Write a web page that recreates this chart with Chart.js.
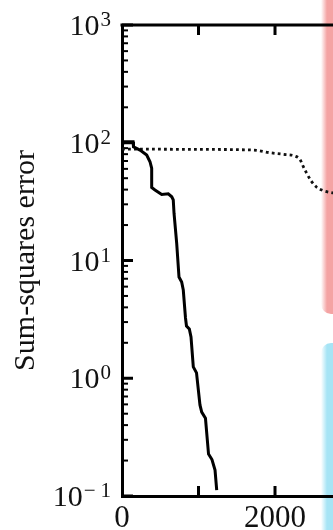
<!DOCTYPE html>
<html>
<head>
<meta charset="utf-8">
<script src="https://cdn.jsdelivr.net/npm/chart.js@4.4.1/dist/chart.umd.min.js"></script>
<style>
  html, body { margin: 0; padding: 0; background: #fff; overflow: hidden; }
  #wrap { position: relative; width: 333px; height: 530px; }
  .strip { position: absolute; left: 321px; width: 20px; }
  #red { top: 0; height: 314px; background: linear-gradient(to right, rgba(244,163,163,0), #f4a3a3 6px); border-bottom-left-radius: 10px; }
  #blue { top: 343px; height: 190px; background: linear-gradient(to right, rgba(166,228,245,0), #a6e4f5 6px); border-top-left-radius: 10px; }
  canvas { position: absolute; left: 0; top: 0; }
</style>
</head>
<body>
<div id="wrap">
  <div class="strip" id="red"></div>
  <div class="strip" id="blue"></div>
  <canvas id="chart" width="333" height="530"></canvas>
</div>
<script>
// values
const solidX = [0, 25, 145, 150, 235, 323, 366, 388, 388, 431, 519, 605, 650, 670, 680, 715, 745, 780, 801, 830, 843, 880, 902, 932, 974, 1019, 1042, 1091, 1131, 1176, 1216, 1238];
const solidY = [95, 102, 102, 92.5, 86.7, 78.7, 69, 60.7, 41.7, 39.7, 36.3, 36.8, 34.8, 32.7, 25.2, 14.0, 7.24, 6.56, 5.61, 3.25, 2.78, 2.62, 2.24, 1.25, 1.11, 0.593, 0.516, 0.457, 0.227, 0.204, 0.166, 0.112];
const dottedX = [0, 1000, 1716, 1934, 2108, 2261, 2326, 2370, 2414, 2479, 2545, 2631, 2718, 2800];
const dottedY = [88.5, 87.8, 86.7, 82.3, 79.8, 77.1, 72.3, 62.7, 55.0, 46.7, 41.9, 39.2, 37.9, 37.2];

const xTicks = [0, 1000, 2000];
const xLabels = ["0", "", "2000"];
const yDecades = [-1, 0, 1, 2, 3];
const yTitle = "Sum-squares error";

const fontFamily = "'Liberation Serif', 'Times New Roman', serif";

// 1..9 x 10^n minor ticks between the decades
const yTickValues = [];
yDecades.forEach((d, i) => {
  if (i === yDecades.length - 1) {
    yTickValues.push(Math.pow(10, d));
    return;
  }
  for (let m = 1; m <= 9; m++) yTickValues.push(m * Math.pow(10, d));
});

function isPow10(v) {
  const e = Math.round(Math.log10(v));
  return Math.abs(v - Math.pow(10, e)) < 1e-9 * Math.max(1, v);
}

// inward ticks, top frame line and 10^n labels
const frameTicks = {
  id: "frameTicks",
  beforeDatasetsDraw(chart) {
    const { ctx, chartArea: a, scales } = chart;
    const x = scales.x, y = scales.y;
    ctx.save();
    ctx.strokeStyle = "#000";
    ctx.lineWidth = 3;
    ctx.beginPath();
    ctx.moveTo(a.left - 1.5, a.top);
    ctx.lineTo(a.right, a.top);
    ctx.stroke();

    x.ticks.forEach((t) => {
      if (t.value === 0) return;
      const px = x.getPixelForValue(t.value);
      ctx.beginPath();
      ctx.moveTo(px, a.bottom);
      ctx.lineTo(px, a.bottom - 10);
      ctx.moveTo(px, a.top);
      ctx.lineTo(px, a.top + 10);
      ctx.stroke();
    });

    y.ticks.forEach((t) => {
      const py = y.getPixelForValue(t.value);
      const major = isPow10(t.value);
      ctx.lineWidth = major ? 3 : 2;
      ctx.beginPath();
      ctx.moveTo(a.left, py);
      ctx.lineTo(a.left + (major ? 11 : 6), py);
      ctx.stroke();

      if (!major) return;
      const e = Math.round(Math.log10(t.value));
      const digits = String(Math.abs(e));
      const right = 111;
      ctx.fillStyle = "#111";
      ctx.textAlign = "left";
      ctx.textBaseline = "alphabetic";
      ctx.font = "21px " + fontFamily;
      const wd = ctx.measureText(digits).width;
      const wm = e < 0 ? ctx.measureText("\u2212").width + 5 : 0;
      const expLeft = right - wd - wm;
      ctx.fillText(digits, right - wd, py + 1);
      if (e < 0) ctx.fillText("\u2212", expLeft, py + 1);
      ctx.font = "30px " + fontFamily;
      const wb = ctx.measureText("10").width;
      ctx.fillText("10", expLeft - wb - 1, py + 10);
    });
    ctx.restore();
  },
};

const hiddenGrid = { drawOnChartArea: false, drawTicks: false, color: "rgba(0,0,0,0)" };

new Chart(document.getElementById("chart"), {
  type: "line",
  data: {
    datasets: [
      {
        label: "solid",
        data: solidX.map((v, i) => ({ x: v, y: solidY[i] })),
        borderColor: "#000",
        borderWidth: 3,
        pointRadius: 0,
        tension: 0,
        fill: false,
      },
      {
        label: "dotted",
        data: dottedX.map((v, i) => ({ x: v, y: dottedY[i] })),
        borderColor: "#111",
        borderWidth: 2.8,
        borderDash: [2.8, 3.2],
        pointRadius: 0,
        cubicInterpolationMode: "monotone",
        fill: false,
      },
    ],
  },
  options: {
    responsive: false,
    animation: false,
    layout: { padding: { top: 25, right: 0, bottom: 0, left: 0 } },
    plugins: {
      legend: { display: false },
      tooltip: { enabled: false },
    },
    scales: {
      x: {
        type: "linear",
        min: 0,
        max: 2758,
        afterBuildTicks: (s) => {
          s.ticks = xTicks.map((v) => ({ value: v }));
        },
        afterFit: (s) => {
          s.height = 34;
        },
        ticks: {
          autoSkip: false,
          maxRotation: 0,
          padding: 4,
          color: "#111",
          font: { family: fontFamily, size: 31 },
          callback: (v, i) => xLabels[i],
        },
        grid: hiddenGrid,
        border: { color: "#000", width: 3 },
      },
      y: {
        type: "logarithmic",
        min: 0.1,
        max: 1000,
        afterBuildTicks: (s) => {
          s.ticks = yTickValues.map((v) => ({ value: v }));
        },
        afterFit: (s) => {
          s.width = 122;
        },
        ticks: { display: false },
        title: {
          display: true,
          text: yTitle,
          color: "#111",
          font: { family: fontFamily, size: 30 },
          padding: { top: 8, bottom: 0 },
        },
        grid: hiddenGrid,
        border: { color: "#000", width: 3 },
      },
    },
  },
  plugins: [frameTicks],
});
</script>
</body>
</html>
